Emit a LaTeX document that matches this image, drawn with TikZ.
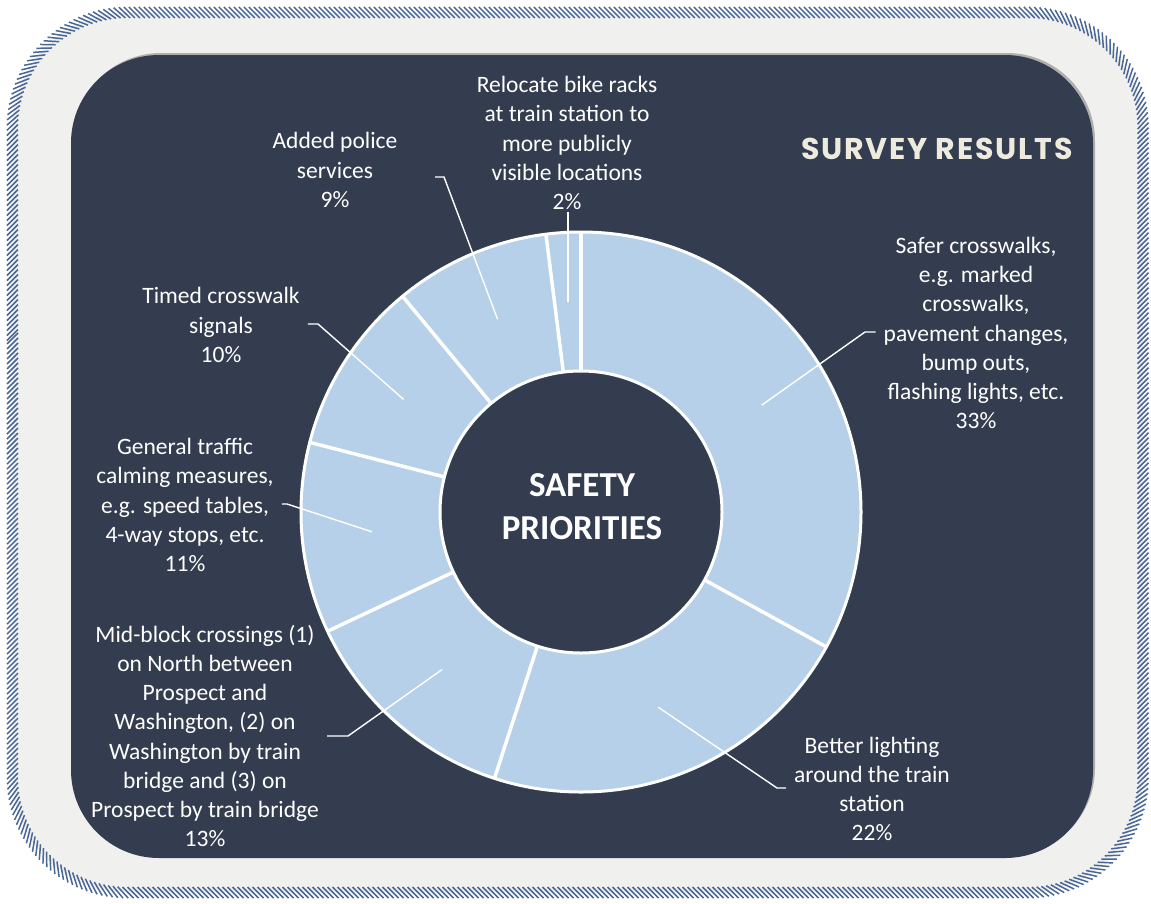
\documentclass[tikz,border=0pt]{standalone}
\usepackage{fontspec}
\setmainfont{Carlito}
\newfontfamily\titlefont{Poppins}[LetterSpace=6]
\usetikzlibrary{decorations.markings}
\definecolor{panel}{RGB}{52,61,79}
\definecolor{panelshade}{RGB}{175,175,175}
\definecolor{slice}{RGB}{181,208,232}
\definecolor{frame}{RGB}{240,240,238}
\definecolor{hatch}{RGB}{72,102,150}
\definecolor{cream}{RGB}{238,235,222}
\tikzset{
  lbl/.style={text=white, align=center, inner ysep=2pt, inner xsep=8pt,
    font=\fontsize{23.5}{29.2}\selectfont},
  hatched/.style={postaction={decorate, decoration={markings,
    mark=between positions 0 and 1 step 5pt with
    {\draw[hatch, line width=1.5pt] (-5.5pt,5.5pt) -- (5.5pt,-5.5pt);}}}}
}
\begin{document}
\begin{tikzpicture}[x=1pt, y=-1pt]
      \useasboundingbox (0,0) rectangle (1151,903);
      % frame and panel
      \path[fill=frame, hatched, rounded corners=115]
        (12.5,450) -- (12.5,12.5) -- (1143,12.5) -- (1143,892.5) -- (12.5,892.5) -- cycle;
      \fill[panelshade, rounded corners=88] (73,53) rectangle (1095,856);
      \fill[panel, rounded corners=88] (71,55) rectangle (1093,858);
      \draw (937,149) node[text=cream, font=\titlefont\bfseries\fontsize{30}{36}\selectfont] (title){SURVEY RESULTS};
      % donut
      \begin{scope}[shift={(581,512)}]
        \fill[slice] (0,0) circle (280);
        \draw[white, line width=3pt] (0,0) circle (280);
        \foreach \a in {-90,28.8,108,154.8,194.4,230.4,262.8}
          \draw[white, line width=3.5pt] (0,0) -- (\a:280);
        \draw (0,0) node[circle, fill=panel, draw=white, line width=3pt, minimum size=282pt, inner sep=0pt] (hub){};
        \coordinate (p1) at (-30.6:210);
        \coordinate (p2) at (68.4:210);
        \coordinate (p3) at (131.4:210);
        \coordinate (p4) at (174.6:210);
        \coordinate (p5) at (212.4:210);
        \coordinate (p6) at (246.6:210);
        \coordinate (p7) at (266.4:210);
      \end{scope}
      \draw (582,507) node[text=white, align=center, font=\bfseries\fontsize{35}{43}\selectfont] (hubtext){SAFETY\\PRIORITIES};
      % labels
      \draw
        (976,333) node[lbl] (l1){Safer crosswalks,\\e.g. marked\\crosswalks,\\pavement changes,\\bump outs,\\flashing lights, etc.\\33\%}
        (872,789) node[lbl] (l2){Better lighting\\around the train\\station\\22\%}
        (205,736) node[lbl] (l3){Mid-block crossings (1)\\on North between\\Prospect and\\Washington, (2) on\\Washington by train\\bridge and (3) on\\Prospect by train bridge\\13\%}
        (185,505) node[lbl] (l4){General traffic\\calming measures,\\e.g. speed tables,\\4-way stops, etc.\\11\%}
        (221,325) node[lbl] (l5){Timed crosswalk\\signals\\10\%}
        (335,170) node[lbl] (l6){Added police\\services\\9\%}
        (567,143) node[lbl] (l7){Relocate bike racks\\at train station to\\more publicly\\visible locations\\2\%};
      \coordinate (k1) at (865,332);
      \coordinate (k2) at (777,788);
      \coordinate (k3) at (348,736);
      \coordinate (k4) at (287,504);
      \coordinate (k5) at (318,324);
      \coordinate (k6) at (444,177);
      \coordinate (e6) at (435,177);
      % leader lines
      \begin{scope}[white, line width=1.4pt]
        \draw (p1) to (k1) to (k1 -| l1.west);
        \draw (p2) to (k2) to (k2 -| l2.west);
        \draw (p3) to (k3) to (k3 -| l3.east);
        \draw (p4) to (k4) to (k4 -| l4.east);
        \draw (p5) to (k5) to (k5 -| l5.east);
        \draw (p6) to (k6) to (e6);
        \draw (p7) to (p7 |- l7.south);
      \end{scope}
    \end{tikzpicture}
\end{document}
